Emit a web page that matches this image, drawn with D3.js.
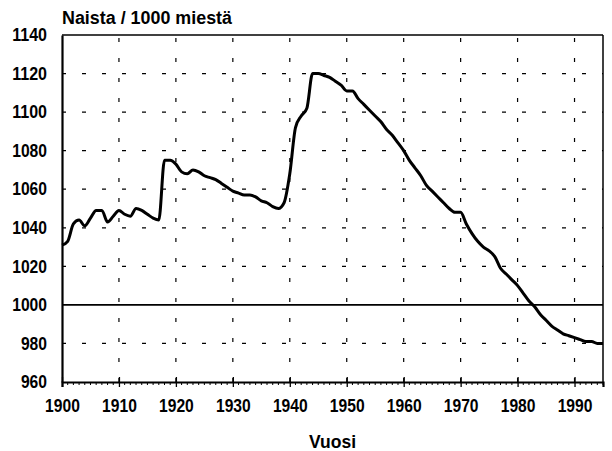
<!DOCTYPE html>
<html>
<head>
<meta charset="utf-8">
<script src="https://cdn.jsdelivr.net/npm/d3@7"></script>
<style>
  body { margin: 0; background: #fff; }
  svg { display: block; }
  text { font-family: "Liberation Sans", Arial, sans-serif; font-weight: bold; fill: #000; }
</style>
</head>
<body>
<div id="chart"></div>
<script>
// Naisia / 1000 miestä, vuosittain 1900-1995
const years = d3.range(1900, 1996);
const ratio = [
  1031, 1033, 1042, 1044, 1041, 1045, 1049, 1049, 1043, 1046,
  1049, 1047, 1046, 1050, 1049, 1047, 1045, 1044, 1075, 1075,
  1073, 1069, 1068, 1070, 1069, 1067, 1066, 1065, 1063, 1061,
  1059, 1058, 1057, 1057, 1056, 1054, 1053, 1051, 1050, 1053,
  1068, 1092, 1098, 1102, 1120, 1120, 1119, 1118, 1116, 1114,
  1111, 1111, 1107, 1104, 1101, 1098, 1095, 1091, 1088, 1084,
  1080, 1075, 1071, 1067, 1062, 1059, 1056, 1053, 1050, 1048,
  1048, 1042, 1037, 1033, 1030, 1028, 1025, 1019, 1016, 1013,
  1010, 1006, 1002, 999, 995, 992, 989, 987, 985, 984,
  983, 982, 981, 981, 980, 980
];
const xTicks = [1900, 1910, 1920, 1930, 1940, 1950, 1960, 1970, 1980, 1990];
const yTicks = [960, 980, 1000, 1020, 1040, 1060, 1080, 1100, 1120, 1140];

const W = 612, H = 451;
const margin = { top: 35, right: 9, bottom: 69, left: 62 };
const width = W - margin.left - margin.right;
const height = H - margin.top - margin.bottom;

const svg = d3.select("#chart").append("svg")
  .attr("width", W)
  .attr("height", H);

const g = svg.append("g")
  .attr("transform", `translate(${margin.left},${margin.top})`);

const x = d3.scaleLinear().domain([1900, 1995]).range([0, width]);
const y = d3.scaleLinear().domain([960, 1140]).range([height, 0]);

// condensed look: squeeze digits to ~8.7px each
const squeeze = sel => sel
  .attr("textLength", function() { return this.textContent.length * 8.7; })
  .attr("lengthAdjust", "spacingAndGlyphs");

// dashed grid
g.append("g")
  .selectAll("line")
  .data(yTicks.filter(v => v !== 960 && v !== 1140 && v !== 1000))
  .enter().append("line")
  .attr("x1", 0).attr("x2", width)
  .attr("y1", d => y(d)).attr("y2", d => y(d))
  .attr("stroke", "#000").attr("stroke-width", 1.2)
  .attr("stroke-dasharray", "4,16");

g.append("g")
  .selectAll("line")
  .data(xTicks.filter(v => v !== 1900))
  .enter().append("line")
  .attr("x1", d => x(d)).attr("x2", d => x(d))
  .attr("y1", height).attr("y2", 0)
  .attr("stroke", "#000").attr("stroke-width", 1.2)
  .attr("stroke-dasharray", "4,16");

// 1000 reference line
g.append("line")
  .attr("x1", 0).attr("x2", width)
  .attr("y1", y(1000)).attr("y2", y(1000))
  .attr("stroke", "#000").attr("stroke-width", 1.8);

// frame top/right
g.append("line")
  .attr("x1", 0).attr("x2", width).attr("y1", 0).attr("y2", 0)
  .attr("stroke", "#000").attr("stroke-width", 1.5);
g.append("line")
  .attr("x1", width).attr("x2", width).attr("y1", 0).attr("y2", height)
  .attr("stroke", "#000").attr("stroke-width", 1.5);

// axes
const xAxis = g.append("g")
  .attr("class", "axis x-axis")
  .attr("transform", `translate(0,${height})`)
  .call(d3.axisBottom(x).tickValues(xTicks).tickFormat(d3.format("d")).tickSize(5).tickPadding(12));
xAxis.select(".domain").attr("stroke-width", 2.2);
xAxis.selectAll(".tick line").attr("y1", -5).attr("stroke-width", 1.3);
xAxis.selectAll("text").attr("font-size", 19).call(squeeze);

// yearly minor ticks
xAxis.selectAll(".minor")
  .data(years.filter(v => v % 10 !== 0))
  .enter().append("line")
  .attr("class", "minor")
  .attr("x1", d => x(d)).attr("x2", d => x(d))
  .attr("y1", 0).attr("y2", 3)
  .attr("stroke", "#000").attr("stroke-width", 1);

const yAxis = g.append("g")
  .attr("class", "axis y-axis")
  .call(d3.axisLeft(y).tickValues(yTicks).tickFormat(d3.format("d")).tickSize(0).tickPadding(15));
yAxis.select(".domain").attr("stroke-width", 2.2);
yAxis.selectAll("text").attr("font-size", 18).call(squeeze);
svg.selectAll(".axis").attr("font-family", null);

// data line
const line = d3.line()
  .x((d, i) => x(years[i]))
  .y(d => y(d))
  .curve(d3.curveMonotoneX);

g.append("path")
  .attr("d", line(ratio))
  .attr("fill", "none")
  .attr("stroke", "#000")
  .attr("stroke-width", 3)
  .attr("stroke-linejoin", "round");

// titles
svg.append("text")
  .attr("x", margin.left).attr("y", 24)
  .attr("font-size", 18)
  .attr("textLength", 170)
  .attr("lengthAdjust", "spacingAndGlyphs")
  .text("Naista / 1000 miestä");

svg.append("text")
  .attr("x", margin.left + width / 2).attr("y", 448)
  .attr("text-anchor", "middle")
  .attr("font-size", 18)
  .attr("textLength", 47)
  .attr("lengthAdjust", "spacingAndGlyphs")
  .text("Vuosi");
</script>
</body>
</html>
